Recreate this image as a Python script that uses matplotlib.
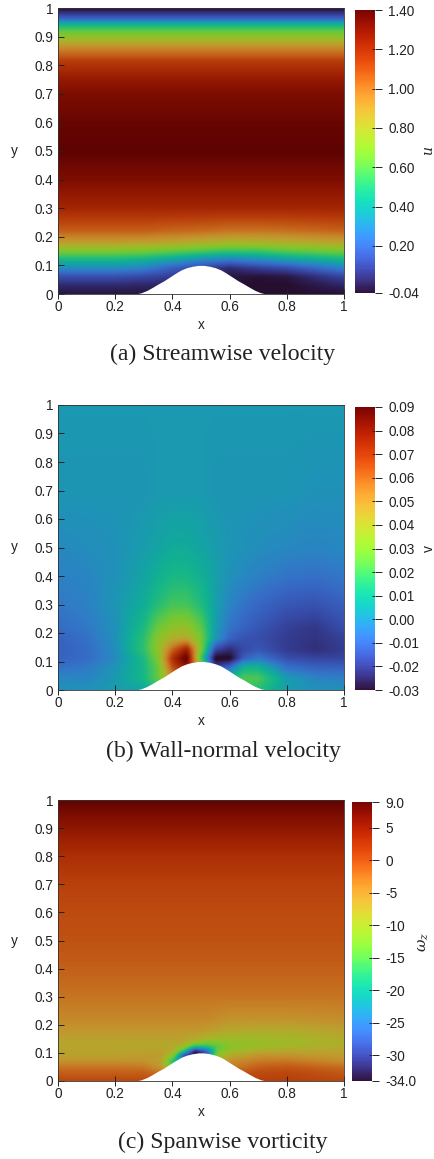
#!/usr/bin/env python3
"""Flow over a bump: streamwise velocity, wall-normal velocity, spanwise vorticity."""
import numpy as np
import matplotlib
matplotlib.use('Agg')
import matplotlib.pyplot as plt
from matplotlib.cm import ScalarMappable
from matplotlib.colors import ListedColormap, Normalize

W, H = 435, 1159
INK = '#222222'
plt.rcParams['font.family'] = ['Liberation Sans', 'DejaVu Sans']
plt.rcParams['mathtext.fontset'] = 'dejavuserif'

# bump outline
hill_x = [0.27, 0.29, 0.31, 0.33, 0.35, 0.37, 0.39, 0.41, 0.43, 0.45, 0.47, 0.49, 0.50,
          0.51, 0.53, 0.55, 0.57, 0.59, 0.61, 0.63, 0.65, 0.67, 0.69, 0.71, 0.73]
hill_y = [0.000, 0.004, 0.012, 0.023, 0.035, 0.046, 0.059, 0.072, 0.084, 0.092, 0.097, 0.100, 0.100,
          0.100, 0.097, 0.092, 0.084, 0.072, 0.059, 0.046, 0.035, 0.023, 0.012, 0.004, 0.000]

# streamwise velocity
u_x = [0, 0.2, 0.3, 0.4, 0.5, 0.6, 0.7, 0.8, 1.0]
u_y_low = [0, 0.03, 0.06, 0.09, 0.12, 0.15, 0.18, 0.22]
u_low = [
    [-0.02, -0.02, -0.02, -0.02, -0.02, -0.03, -0.04, -0.04, -0.03],
    [0.03, 0.03, 0.02, 0.01, 0.00, -0.03, -0.04, -0.04, 0.02],
    [0.13, 0.13, 0.11, 0.08, 0.05, -0.02, -0.03, -0.02, 0.10],
    [0.30, 0.30, 0.27, 0.17, 0.10, 0.03, 0.08, 0.12, 0.27],
    [0.46, 0.46, 0.44, 0.38, 0.30, 0.26, 0.30, 0.36, 0.45],
    [0.68, 0.68, 0.66, 0.62, 0.58, 0.54, 0.55, 0.60, 0.66],
    [0.88, 0.88, 0.87, 0.85, 0.82, 0.79, 0.80, 0.82, 0.86],
    [1.05, 1.05, 1.05, 1.03, 1.02, 1.00, 1.00, 1.01, 1.04],
]
u_y_high = [0.30, 0.40, 0.50, 0.60, 0.70, 0.75, 0.815, 0.86, 0.895, 0.92, 0.95, 0.96, 0.98, 1.0]
u_high = [1.22, 1.33, 1.40, 1.38, 1.33, 1.27, 1.14, 0.95, 0.75, 0.62, 0.38, 0.22, 0.08, -0.04]
u_ticks = [-0.04, 0.20, 0.40, 0.60, 0.80, 1.00, 1.20, 1.40]
u_ticklabels = ['-0.04', '0.20', '0.40', '0.60', '0.80', '1.00', '1.20', '1.40']

# wall-normal velocity
v_x = [0, 0.1, 0.2, 0.3, 0.35, 0.4, 0.45, 0.5, 0.55, 0.6, 0.65, 0.7, 0.8, 0.9, 1.0]
v_y = [0, 0.04, 0.08, 0.11, 0.14, 0.18, 0.22, 0.3, 0.4, 0.5, 0.7, 1.0]
v_field = [
    [0.000, 0.000, 0.003, 0.005, 0.015, 0.030, 0.040, 0.020, -0.010, 0.012, 0.018, 0.015, 0.003, 0.000, 0.000],
    [-0.002, -0.003, 0.002, 0.012, 0.025, 0.050, 0.060, 0.030, 0.000, 0.012, 0.022, 0.022, 0.003, -0.003, -0.004],
    [-0.008, -0.006, 0.001, 0.012, 0.026, 0.065, 0.080, 0.040, -0.020, -0.010, 0.010, 0.010, -0.008, -0.012, -0.012],
    [-0.011, -0.009, -0.002, 0.013, 0.030, 0.072, 0.092, 0.020, -0.032, -0.032, -0.012, -0.006, -0.016, -0.018, -0.018],
    [-0.012, -0.009, -0.001, 0.017, 0.034, 0.060, 0.078, 0.030, -0.018, -0.024, -0.017, -0.014, -0.020, -0.023, -0.020],
    [-0.011, -0.008, 0.000, 0.016, 0.032, 0.041, 0.044, 0.028, 0.002, -0.011, -0.015, -0.016, -0.020, -0.022, -0.019],
    [-0.009, -0.006, 0.000, 0.013, 0.026, 0.033, 0.034, 0.024, 0.003, -0.007, -0.011, -0.014, -0.019, -0.021, -0.016],
    [-0.006, -0.004, 0.001, 0.008, 0.015, 0.020, 0.020, 0.014, 0.004, -0.003, -0.007, -0.010, -0.014, -0.015, -0.012],
    [-0.004, -0.003, 0.000, 0.005, 0.009, 0.012, 0.012, 0.009, 0.004, 0.000, -0.002, -0.004, -0.007, -0.008, -0.006],
    [-0.002, -0.001, 0.000, 0.003, 0.005, 0.007, 0.007, 0.005, 0.003, 0.001, 0.000, -0.001, -0.002, -0.003, -0.002],
    [0.001, 0.001, 0.001, 0.001, 0.002, 0.002, 0.002, 0.002, 0.001, 0.001, 0.001, 0.001, 0.001, 0.000, 0.000],
    [0.002] * 15,
]
v_ticks = [-0.03, -0.02, -0.01, 0.00, 0.01, 0.02, 0.03, 0.04, 0.05, 0.06, 0.07, 0.08, 0.09]
v_ticklabels = ['-0.03', '-0.02', '-0.01', '0.00', '0.01', '0.02', '0.03',
                '0.04', '0.05', '0.06', '0.07', '0.08', '0.09']

# spanwise vorticity
w_x = [0, 0.2, 0.3, 0.36, 0.4, 0.44, 0.48, 0.52, 0.56, 0.6, 0.7, 0.8, 1.0]
w_y_low = [0, 0.03, 0.05, 0.07, 0.09, 0.105, 0.12, 0.135, 0.15, 0.18, 0.22]
w_low = [
    [0.3, 0.3, 0.3, 0.3, 0.3, 0.3, 0.3, 0.3, 0.3, 0.3, 1, 1, 0.3],
    [-1.5, -1.5, -1.5, -3, -3, -3, -3, -3, -3, -1, 0, 0.3, -1],
    [-3, -3, -3.5, -6, -14, -16, -14, -12, -8, -4, -1.5, -1, -2.5],
    [-5.5, -5.5, -5.5, -7, -18, -26, -24, -18, -9, -5, -3.5, -3, -5],
    [-7, -7, -6.5, -6.5, -11, -30, -34, -28, -11, -8, -5.5, -5.5, -6.5],
    [-7, -7, -7, -7, -8, -18, -34, -28, -13, -10, -8, -7.5, -7],
    [-7.5, -7.5, -7.5, -7.5, -7.5, -11, -20, -19, -15, -12, -10, -9, -8],
    [-7.5, -7.5, -7.5, -7.5, -7.5, -8, -11, -13, -12.5, -11, -10.5, -10, -8.5],
    [-7, -7, -7, -7, -7, -7, -8, -9, -10, -10, -10, -9.5, -8],
    [-6, -6, -6, -6, -6, -6, -6, -6.5, -7, -7.5, -8, -8, -7],
    [-4.5, -4.5, -4.5, -4.5, -4.5, -4.5, -4.5, -4.5, -5, -5.5, -5.5, -5.5, -5],
]
w_y_high = [0.3, 0.4, 0.5, 0.6, 0.7, 0.8, 0.9, 0.95, 1.0]
w_high = [-3.0, -1.5, -0.5, 0.0, 0.8, 2.5, 5.5, 7.0, 9.0]
w_ticks = [-34, -30, -25, -20, -15, -10, -5, 0, 5, 9]
w_ticklabels = ['-34.0', '-30', '-25', '-20', '-15', '-10', '-5', '0', '5', '9.0']

x_ticks = [0, 0.2, 0.4, 0.6, 0.8, 1]
x_ticklabels = ['0', '0.2', '0.4', '0.6', '0.8', '1']
y_ticks = [0, 0.1, 0.2, 0.3, 0.4, 0.5, 0.6, 0.7, 0.8, 0.9, 1]
y_ticklabels = ['0', '0.1', '0.2', '0.3', '0.4', '0.5', '0.6', '0.7', '0.8', '0.9', '1']

# the fields look darker than the colorbar in the original (lit surface)
turbo = plt.get_cmap('turbo')
field_cmap = ListedColormap(turbo(np.arange(256))[:, :3] * 0.78)


def px_axes(fig, x0, y0, x1, y1):
    return fig.add_axes([x0 / W, 1 - y1 / H, (x1 - x0) / W, (y1 - y0) / H])


def fine_field(xs, ys, field, n=600, sigma=2.5):
    # uneven grid -> even grid, then a small blur to hide the kinks
    field = np.asarray(field, dtype=float)
    fx = np.linspace(0, 1, n)
    rows = np.array([np.interp(fx, xs, r) for r in field])
    z = np.array([np.interp(fx, ys, c) for c in rows.T]).T
    half = int(4 * sigma)
    k = np.exp(-0.5 * (np.arange(-half, half + 1) / sigma) ** 2)
    k /= k.sum()
    z = np.pad(z, half, mode='edge')
    z = np.apply_along_axis(np.convolve, 0, z, k, mode='same')
    z = np.apply_along_axis(np.convolve, 1, z, k, mode='same')
    return z[half:-half, half:-half]


def panel(fig, box, cbox, xs, ys, field, vmin, vmax, ticks, ticklabels, name, name_x, name_size, caption, cap_y):
    ax = px_axes(fig, *box)
    norm = Normalize(vmin, vmax)
    ax.imshow(fine_field(xs, ys, field), origin='lower', extent=(0, 1, 0, 1), aspect='auto',
              cmap=field_cmap, norm=norm, interpolation='bilinear', zorder=1)
    ax.fill_between(hill_x, 0, hill_y, color='white', lw=0, zorder=2)
    ax.set_xlim(0, 1)
    ax.set_ylim(0, 1)
    ax.set_xticks(x_ticks, x_ticklabels)
    ax.set_yticks(y_ticks, y_ticklabels)
    ax.tick_params(axis='x', direction='inout', length=7, width=0.7, labelsize=9.8, pad=1,
                   color=INK, labelcolor=INK)
    ax.tick_params(axis='y', direction='in', length=4.5, width=0.7, labelsize=9.8, pad=3.5,
                   color=INK, labelcolor=INK)
    for s in ax.spines.values():
        s.set_linewidth(0.6)
        s.set_color('#333333')
    ax.set_xlabel('x', fontsize=9.8, labelpad=2.5, color=INK)
    fig.text(14 / W, 1 - (box[1] + box[3]) / 2 / H, 'y', fontsize=9.8, color=INK,
             ha='center', va='center')

    cax = px_axes(fig, *cbox)
    cb = fig.colorbar(ScalarMappable(norm=norm, cmap=turbo), cax=cax)
    cb.set_ticks(ticks, labels=ticklabels)
    cb.ax.tick_params(direction='out', length=5, width=0.7, labelsize=9.8, pad=4.5,
                      color=INK, labelcolor=INK)
    cb.ax.hlines(ticks, 0.85, 1, color=INK, lw=0.7, zorder=5)
    cb.outline.set_linewidth(0)
    fig.text(name_x / W, 1 - (cbox[1] + cbox[3]) / 2 / H, name, rotation=90,
             fontsize=name_size, ha='center', va='center', color=INK)
    fig.text(223 / W, 1 - cap_y / H, caption, family=['Liberation Serif'], fontsize=17.1,
             ha='center', va='center', color=INK)


fig = plt.figure(figsize=(W / 100, H / 100), dpi=100)

u_ys = u_y_low + u_y_high
u_field = np.vstack([u_low, np.tile(np.array(u_high)[:, None], (1, len(u_x)))])
panel(fig, (58, 8, 344, 294), (355, 10, 375, 293), u_x, u_ys, u_field, -0.04, 1.40,
      u_ticks, u_ticklabels, '$u$', 429, 10, '(a) Streamwise velocity', 354)
panel(fig, (58, 405, 344, 690), (355, 407, 375, 690), v_x, v_y, v_field, -0.03, 0.09,
      v_ticks, v_ticklabels, 'v', 429, 10, '(b) Wall-normal velocity', 751)
w_ys = w_y_low + w_y_high
w_field = np.vstack([w_low, np.tile(np.array(w_high)[:, None], (1, len(w_x)))])
panel(fig, (58, 800, 344, 1081), (352, 802, 372, 1081), w_x, w_ys, w_field, -34, 9,
      w_ticks, w_ticklabels, r'$\omega_z$', 424, 11, '(c) Spanwise vorticity', 1142)

fig.savefig('out.png', dpi=100)
